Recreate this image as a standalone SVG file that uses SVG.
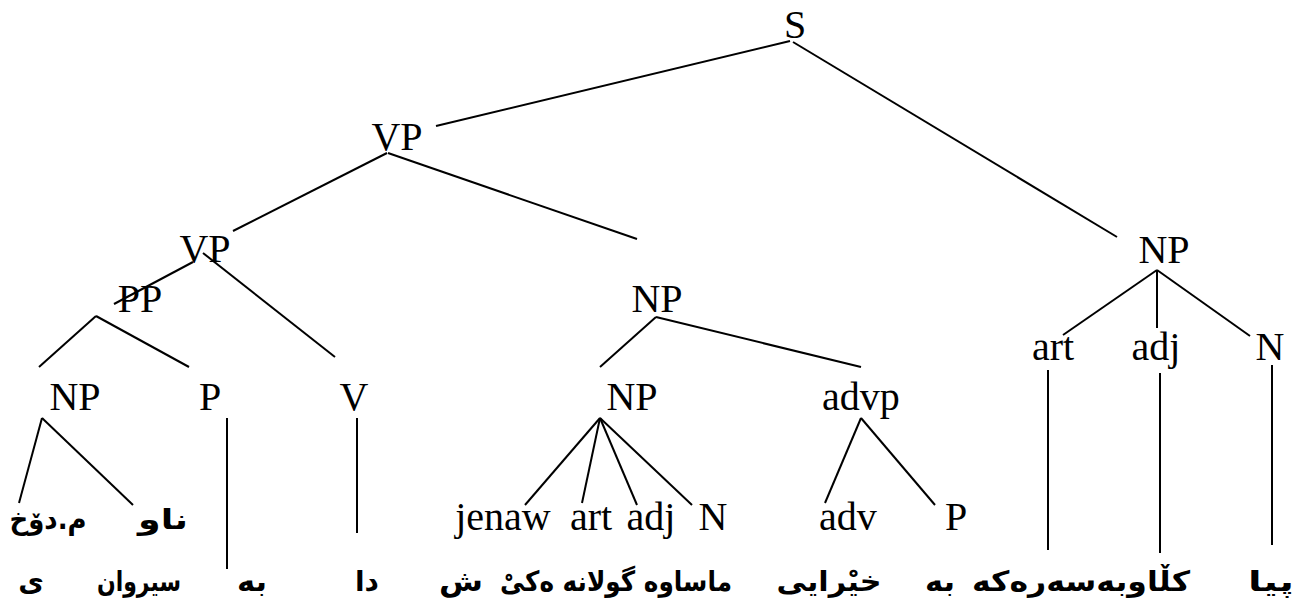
<svg xmlns="http://www.w3.org/2000/svg" width="1297" height="605" viewBox="0 0 1297 605">
<style>
.lbl{font-family:"Liberation Serif","Times New Roman",serif;font-size:40px;fill:#000;text-anchor:middle}
.ku{font-family:"DejaVu Sans",sans-serif;font-weight:bold;font-size:28px;fill:#000;text-anchor:middle;direction:rtl}
.edge line{stroke:#000;stroke-width:2;stroke-linecap:butt}
</style>
<rect width="1297" height="605" fill="#fff"/>
<g class="edge" id="connectors">
<line x1="790" y1="41" x2="436" y2="126"/>
<line x1="793" y1="42" x2="1117" y2="237"/>
<line x1="387" y1="153" x2="233" y2="231"/>
<line x1="388" y1="153" x2="637" y2="239"/>
<line x1="193" y1="262" x2="114" y2="304"/>
<line x1="203" y1="253" x2="335" y2="357"/>
<line x1="96" y1="316" x2="39" y2="367"/>
<line x1="96" y1="316" x2="189" y2="367"/>
<line x1="42" y1="418" x2="19" y2="503"/>
<line x1="42" y1="418" x2="133" y2="505"/>
<line x1="227" y1="418" x2="227" y2="569"/>
<line x1="357" y1="418" x2="357" y2="533"/>
<line x1="656" y1="317" x2="600" y2="367"/>
<line x1="656" y1="317" x2="861" y2="367"/>
<line x1="600" y1="418" x2="525" y2="505"/>
<line x1="600" y1="418" x2="582" y2="503"/>
<line x1="600" y1="418" x2="637" y2="505"/>
<line x1="600" y1="418" x2="692" y2="505"/>
<line x1="861" y1="418" x2="825" y2="503"/>
<line x1="861" y1="418" x2="935" y2="505"/>
<line x1="1157" y1="270" x2="1063" y2="335"/>
<line x1="1157" y1="270" x2="1157" y2="328"/>
<line x1="1157" y1="270" x2="1250" y2="336"/>
<line x1="1048" y1="370" x2="1048" y2="550"/>
<line x1="1160" y1="373" x2="1160" y2="553"/>
<line x1="1272" y1="365" x2="1272" y2="545"/>
</g>
<g id="n-S"><text class="lbl" x="795" y="38">S</text></g>
<g id="n-VP1"><text class="lbl" x="397" y="150">VP</text></g>
<g id="n-VP2"><text class="lbl" x="205" y="262">VP</text></g>
<g id="n-NPr"><text class="lbl" x="1164" y="263">NP</text></g>
<g id="n-PP"><text class="lbl" x="140" y="312">PP</text></g>
<g id="n-NPm"><text class="lbl" x="657" y="312">NP</text></g>
<g id="n-art1"><text class="lbl" x="1053" y="360">art</text></g>
<g id="n-adj1"><text class="lbl" x="1156" y="360">adj</text></g>
<g id="n-N1"><text class="lbl" x="1270" y="360">N</text></g>
<g id="n-NPl"><text class="lbl" x="75" y="410">NP</text></g>
<g id="n-P1"><text class="lbl" x="210" y="410">P</text></g>
<g id="n-V"><text class="lbl" x="354" y="410">V</text></g>
<g id="n-NP2"><text class="lbl" x="632" y="410">NP</text></g>
<g id="n-advp"><text class="lbl" x="861" y="410">advp</text></g>
<g id="n-jenaw"><text class="lbl" x="503" y="530">jenaw</text></g>
<g id="n-art2"><text class="lbl" x="591" y="530">art</text></g>
<g id="n-adj2"><text class="lbl" x="651" y="530">adj</text></g>
<g id="n-N2"><text class="lbl" x="713" y="530">N</text></g>
<g id="n-adv"><text class="lbl" x="848" y="530">adv</text></g>
<g id="n-P2"><text class="lbl" x="956" y="530">P</text></g>
<g id="n-k1"><text class="ku" x="48" y="529" textLength="77" lengthAdjust="spacingAndGlyphs">م.دۆخ</text></g>
<g id="n-k2"><text class="ku" x="163" y="529" textLength="50" lengthAdjust="spacingAndGlyphs">ناو</text></g>
<g id="n-w1"><text class="ku" x="31" y="591">ی</text></g>
<g id="n-w2"><text class="ku" x="139" y="591" textLength="84" lengthAdjust="spacingAndGlyphs">سیروان</text></g>
<g id="n-w3"><text class="ku" x="252" y="591" textLength="30" lengthAdjust="spacingAndGlyphs">به</text></g>
<g id="n-w4"><text class="ku" x="367" y="591">دا</text></g>
<g id="n-w5"><text class="ku" x="461" y="591" textLength="44" lengthAdjust="spacingAndGlyphs">ش</text></g>
<g id="n-w6"><text class="ku" x="616" y="591" textLength="232" lengthAdjust="spacingAndGlyphs">ماساوه گولانه ەكیْ</text></g>
<g id="n-w7"><text class="ku" x="829" y="591" textLength="105" lengthAdjust="spacingAndGlyphs">خیْرایی</text></g>
<g id="n-w8"><text class="ku" x="940" y="591" textLength="30" lengthAdjust="spacingAndGlyphs">به</text></g>
<g id="n-w9"><text class="ku" x="1081" y="591" textLength="218" lengthAdjust="spacingAndGlyphs">كڵاوبەسەرەكە</text></g>
<g id="n-w10"><text class="ku" x="1271" y="591" textLength="46" lengthAdjust="spacingAndGlyphs">پیا</text></g>
</svg>
